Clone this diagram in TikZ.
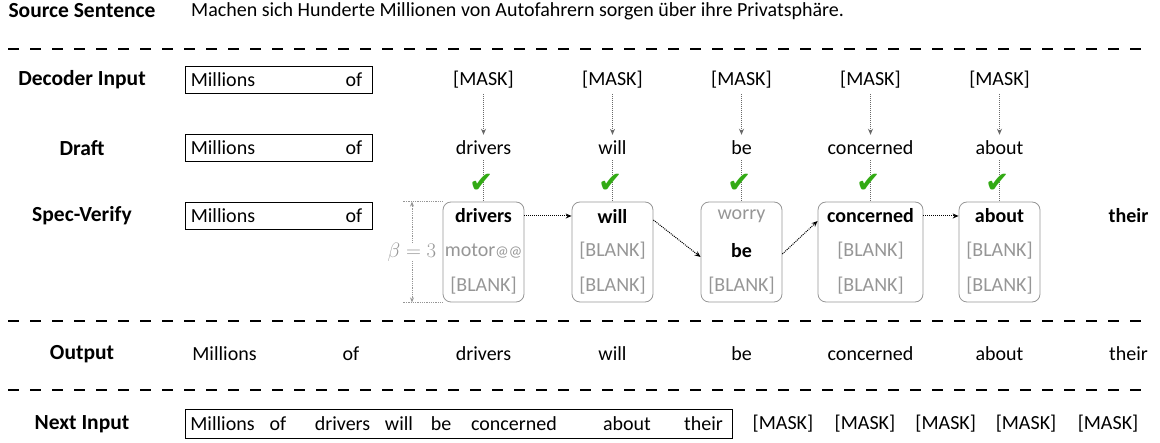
\documentclass[tikz,border=0pt]{standalone}
\usepackage{fontspec}
\setmainfont{Carlito}
\newfontfamily\symfont{DejaVu Sans}
\usetikzlibrary{arrows.meta, positioning, calc}
\definecolor{checkgreen}{RGB}{50,170,20}
\definecolor{candgray}{RGB}{150,150,150}
\definecolor{linkgray}{RGB}{105,105,105}
\newcommand{\picked}[1]{{\color{black}\bfseries #1}}

\begin{document}
\begin{tikzpicture}[x=1pt,y=-1pt,
    every node/.style={font=\fontsize{20}{24}\selectfont, inner sep=0pt},
    rowlabel/.style={font=\fontsize{21.5}{26}\selectfont\bfseries},
    ctxbox/.style={draw, line width=0.8pt, minimum height=27pt},
    candbox/.style={draw=candgray, line width=0.8pt, rounded corners=8pt, minimum height=100pt},
    cand/.style={text=candgray},
    sepline/.style={line width=1.1pt, dash pattern=on 11pt off 11pt},
    maskarrow/.style={linkgray, densely dotted, line width=1pt, -{Stealth[length=6pt,width=5pt]}},
    passarrow/.style={black, densely dotted, line width=1pt, -{Stealth[length=6pt,width=5pt]}},
    tick/.style={font=\symfont\fontsize{29}{29}\selectfont, text=checkgreen}]
\useasboundingbox (0,0) rectangle (1160,443);

% source sentence
\node[rowlabel] (srclbl) at (82,11) {Source Sentence};
\node[anchor=west] (src) at (191,11) {Machen sich Hunderte Millionen von Autofahrern sorgen über ihre Privatsphäre.};
\coordinate (sepA) at (8,49);
\draw[sepline] (sepA) -- ++(1144,0);

% row labels
\node[rowlabel] (declbl) at (82,80) {Decoder Input};
\node[rowlabel] (drlbl) at (82,148) {Draft};
\node[rowlabel] (svlbl) at (82,216) {Spec-Verify};

% prefix boxes
\foreach \r/\y in {dec/80,dr/148,sv/216}{
  \node[ctxbox, minimum width=187pt] (\r box) at (278.5,\y) {};
  \node[anchor=west] at ([xshift=6pt]\r box.west) {Millions};
  \node[anchor=east] at ([xshift=-10pt]\r box.east) {of};
}

% masks, draft words and checks
\foreach \w [count=\i] in {drivers,will,be,concerned,about}{
  \node (m\i) at ({483.5+129*(\i-1)},80) {[MASK]};
  \node (d\i) at ({483.5+129*(\i-1)},148) {\w};
  \draw[maskarrow] ([yshift=-5pt]m\i.south) -- ([yshift=6pt]d\i.north);
}

% candidate boxes
\foreach \x/\bw/\a/\b/\c [count=\i] in {
    483.5/81/\picked{drivers}/{motor{\fontsize{15}{15}\selectfont @@}}/{[BLANK]},
    612.5/81/\picked{will}/{[BLANK]}/{[BLANK]},
    741.5/81/worry/\picked{be}/{[BLANK]},
    870.5/105/\picked{concerned}/{[BLANK]}/{[BLANK]},
    999.5/81/\picked{about}/{[BLANK]}/{[BLANK]}}{
  \node[candbox, minimum width=\bw pt] (b\i) at (\x,252) {};
  \node[cand] (b\i a) at (\x,216) {\a};
  \node[cand] (b\i b) at (\x,251) {\b};
  \node[cand] (b\i c) at (\x,286) {\c};
  \draw[linkgray, densely dotted, line width=1pt] ([yshift=-5pt]d\i.south) -- (b\i.north);
  \node[tick] (ok\i) at ([xshift=-2pt]b\i.north |- 0,183) {✔};
}
\node[font=\fontsize{20}{24}\selectfont\bfseries] (next) at (1128.5,216) {their};

% accepted path
\draw[passarrow] (b1.east |- b1a) -- (b2.west |- b2a);
\draw[passarrow] ([yshift=32pt]b2.east) -- ([yshift=-5pt]b3.west);
\draw[passarrow] ([yshift=-2pt]b3.east) -- ([yshift=31pt]b4.west);
\draw[passarrow] (b4.east |- b4a) -- (b5.west |- b5a);

% beam size
\node[cand, font=\fontsize{20}{24}\selectfont] (beta) at (412,252) {$\beta=3$};
\draw[candgray, densely dotted, line width=0.8pt] (b1.north west) -- ++(-40,0) coordinate (btop);
\draw[candgray, densely dotted, line width=0.8pt] (b1.south west) -- ++(-40,0) coordinate (bbot);
\draw[candgray, densely dotted, line width=0.8pt, -{Stealth[length=5pt,width=4pt]}] (beta.north) -- (beta.north |- btop);
\draw[candgray, densely dotted, line width=0.8pt, -{Stealth[length=5pt,width=4pt]}] (beta.south) -- (beta.south |- bbot);

\coordinate (sepB) at (8,321);
\draw[sepline] (sepB) -- ++(1144,0);

% output
\node[rowlabel] (outlbl) at (82,354) {Output};
\node (o0) at (224.5,354) {Millions};
\node (o00) at (351,354) {of};
\foreach \w [count=\i] in {drivers,will,be,concerned,about,their}{
  \node (o\i) at ({483.5+129*(\i-1)},354) {\w};
}

\coordinate (sepC) at (8,390);
\draw[sepline] (sepC) -- ++(1144,0);

% next input
\node[rowlabel] (nxlbl) at (82,424) {Next Input};
\node[ctxbox, minimum width=547pt, minimum height=29pt] (nxbox) at (458.5,424) {};
\foreach \w/\x [count=\i] in {Millions/222.5,of/278,drivers/342.5,will/399,be/441,concerned/514,about/627,their/703.6}{
  \node (n\i) at (\x,424) {\w};
}
\foreach \x [count=\i] in {783,865,945.7,1026,1108}{
  \node (nm\i) at (\x,424) {[MASK]};
}
\end{tikzpicture}
\end{document}
